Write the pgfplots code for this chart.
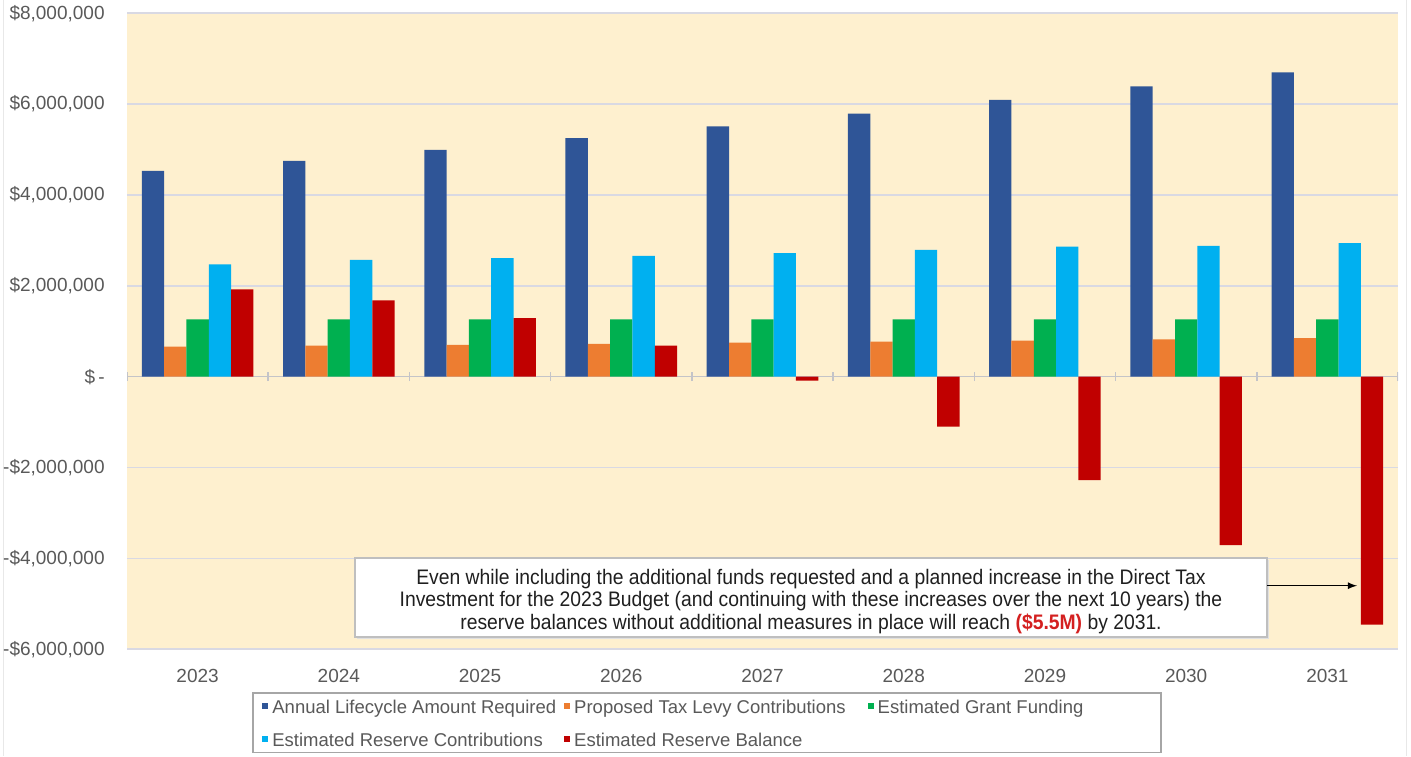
\documentclass[border=0pt]{standalone}
\usepackage{fontspec}
\setmainfont{Liberation Sans}
\newfontfamily\narrowfont[FakeStretch=0.92]{Liberation Sans}
\usepackage{pgfplots}
\pgfplotsset{compat=1.18}

\definecolor{cBlue}{HTML}{2F5597}
\definecolor{cOrange}{HTML}{ED7D31}
\definecolor{cGreen}{HTML}{00B050}
\definecolor{cCyan}{HTML}{00B0F0}
\definecolor{cRed}{HTML}{C00000}
\definecolor{bgc}{HTML}{FEF0CF}
\definecolor{gridc}{HTML}{D9D9E3}
\definecolor{zeroc}{HTML}{C4C4C8}
\definecolor{tickc}{HTML}{595959}
\definecolor{legc}{HTML}{A6A6A6}
\definecolor{boxc}{HTML}{BFBFBF}
\definecolor{annred}{HTML}{D42020}

\begin{document}
\begin{tikzpicture}
% canvas
\path[use as bounding box] (0,0) rectangle (705.5pt,378pt);
\draw[black!9, line width=0.5pt] (1.5pt,0) -- (1.5pt,378pt);
\draw[black!9, line width=0.5pt] (703pt,0) -- (703pt,378pt);

% legend frame
\draw[legc, fill=white, line width=0.6pt] (126.5pt,1.7pt) rectangle (580.5pt,31.5pt);

\begin{axis}[
  at={(63.5pt,53.4pt)}, anchor=south west,
  scale only axis, width=635.5pt, height=318pt,
  xmin=-0.5, xmax=8.5, ymin=-6, ymax=8,
  axis line style={draw=none},
  axis background/.style={fill=bgc},
  ybar=0pt, bar width=0.158,
  xtick={0,...,8},
  xticklabels={2023,2024,2025,2026,2027,2028,2029,2030,2031},
  ytick={-6,-4,-2,0,2,4,6,8},
  yticklabels={{-\$6,000,000},{-\$4,000,000},{-\$2,000,000},{\$\,-\hspace{5pt}},{\$2,000,000},{\$4,000,000},{\$6,000,000},{\$8,000,000}},
  major tick length=0pt,
  ymajorgrids, grid style={gridc, line width=0.75pt},
  tick label style={font=\fontsize{9.5}{11}\selectfont, text=tickc},
  yticklabel style={inner sep=0pt, xshift=-11pt},
  xticklabel style={inner sep=0pt, yshift=-10pt},
  legend columns=3,
  legend cell align=left,
  legend style={draw=none, fill=none, inner sep=0pt,
    at={(0.1062,-0.0735)}, anchor=north west,
    font=\fontsize{9.25}{11}\selectfont, text=tickc,
    row sep=4.3pt,
    /tikz/every even column/.append style={column sep=2pt}},
  sqlegend/.style={legend image code/.code={\fill[##1] (0pt,-0.4pt) rectangle (3pt,2.6pt);}},
]
% zero line with category separators
\draw[zeroc, line width=0.75pt] (axis cs:-0.5,0) -- (axis cs:8.5,0);
\pgfplotsinvokeforeach{-0.5,0.5,1.5,2.5,3.5,4.5,5.5,6.5,7.5,8.5}{
  \draw[zeroc, line width=0.75pt] (axis cs:#1,-0.1) -- (axis cs:#1,0.1);
}

\addplot[fill=cBlue, draw=none, sqlegend] coordinates {
  (0,4.53) (1,4.75) (2,4.99) (3,5.25) (4,5.51) (5,5.79) (6,6.09) (7,6.39) (8,6.70)};
\addlegendentry{Annual Lifecycle Amount Required}
\addplot[fill=cOrange, draw=none, sqlegend] coordinates {
  (0,0.66) (1,0.68) (2,0.70) (3,0.72) (4,0.75) (5,0.77) (6,0.79) (7,0.82) (8,0.85)};
\addlegendentry{\mbox{Proposed Tax Levy Contributions}\hspace*{7pt}\mbox{}}
\addplot[fill=cGreen, draw=none, sqlegend] coordinates {
  (0,1.26) (1,1.26) (2,1.26) (3,1.26) (4,1.26) (5,1.26) (6,1.26) (7,1.26) (8,1.26)};
\addlegendentry{Estimated Grant Funding}
\addplot[fill=cCyan, draw=none, sqlegend] coordinates {
  (0,2.47) (1,2.57) (2,2.61) (3,2.66) (4,2.72) (5,2.79) (6,2.86) (7,2.88) (8,2.94)};
\addlegendentry{Estimated Reserve Contributions}
\addplot[fill=cRed, draw=none, sqlegend] coordinates {
  (0,1.92) (1,1.68) (2,1.29) (3,0.68) (4,-0.09) (5,-1.10) (6,-2.28) (7,-3.71) (8,-5.46)};
\addlegendentry{Estimated Reserve Balance}
\end{axis}

% callout
\fill[black!12] (178.5pt,58.5pt) rectangle (634.5pt,98pt);
\draw[boxc, fill=white, line width=0.75pt] (177.5pt,59.5pt) rectangle (633.5pt,99pt);
\node[align=center, inner sep=0pt, text=black!88,
      font=\narrowfont\fontsize{10.5}{11.25}\selectfont]
  at (405.5pt,77.3pt)
  {Even while including the additional funds requested and a planned increase in the Direct Tax\\
   Investment for the 2023 Budget (and continuing with these increases over the next 10 years) the\\
   reserve balances without additional measures in place will reach {\color{annred}\bfseries(\$5.5M)} by 2031.};
\draw[-latex, black, line width=0.6pt] (633.5pt,85.15pt) -- (678.5pt,85.15pt);
\end{tikzpicture}
\end{document}
